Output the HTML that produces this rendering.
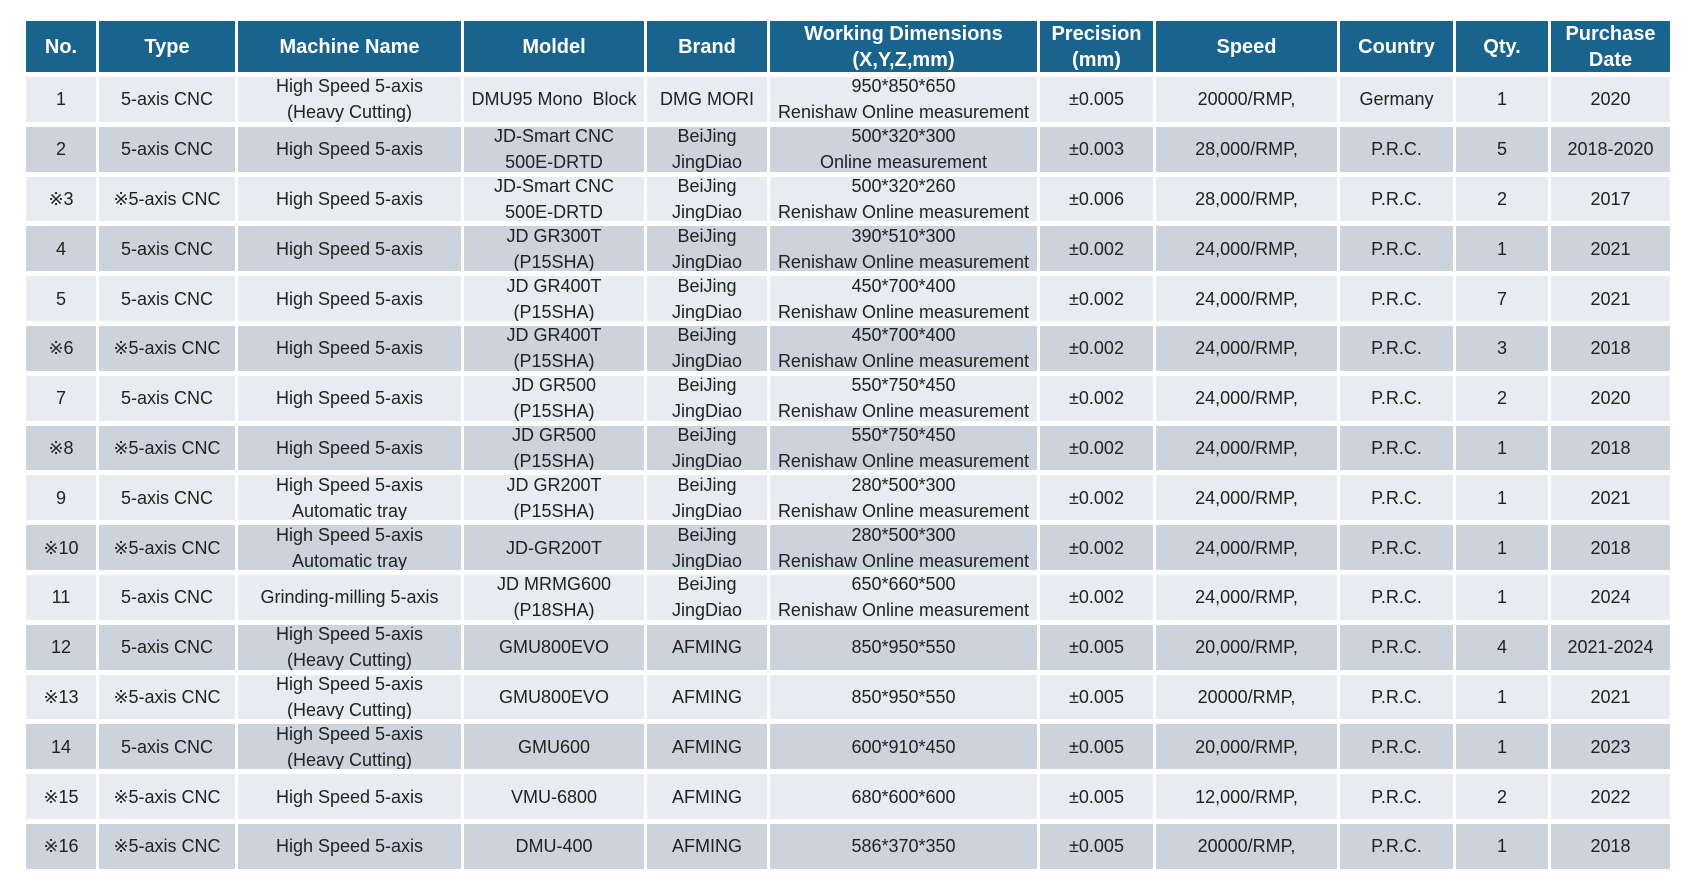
<!DOCTYPE html>
<html><head><meta charset="utf-8"><style>
html,body{margin:0;padding:0;background:#fff;width:1689px;height:892px;overflow:hidden}
table{position:absolute;left:23px;top:16px;border-collapse:separate;border-spacing:3px 5px;table-layout:fixed;font-family:"Liberation Sans",sans-serif}
td,th{padding:0;text-align:center}
th{background:#19638f;color:#fff;font-weight:bold;font-size:20px;height:51px;line-height:26px}
th div{height:51px;overflow:hidden;display:flex;align-items:center;justify-content:center;flex-direction:column;white-space:nowrap}
td{height:44.8px;font-size:18px;color:#222}
td div{height:44.8px;overflow:hidden;display:flex;align-items:center;justify-content:center;line-height:26px;white-space:nowrap;flex-direction:column}
tr.l td{background:#e8ebf0}
tr.d td{background:#cdd3dc}
</style></head><body>
<table>
<colgroup><col style="width:70px"><col style="width:136px"><col style="width:223px"><col style="width:180px"><col style="width:120px"><col style="width:267px"><col style="width:113px"><col style="width:181px"><col style="width:113px"><col style="width:92px"><col style="width:119px"></colgroup>
<tr><th><div>No.</div></th><th><div>Type</div></th><th><div>Machine Name</div></th><th><div>Moldel</div></th><th><div>Brand</div></th><th><div><span>Working Dimensions</span><span>(X,Y,Z,mm)</span></div></th><th><div><span>Precision</span><span>(mm)</span></div></th><th><div>Speed</div></th><th><div>Country</div></th><th><div>Qty.</div></th><th><div><span>Purchase</span><span>Date</span></div></th></tr>
<tr class="l"><td><div>1</div></td><td><div>5-axis CNC</div></td><td><div><span>High Speed 5-axis</span><span>(Heavy Cutting)</span></div></td><td><div>DMU95 Mono&nbsp; Block</div></td><td><div>DMG MORI</div></td><td><div><span>950*850*650</span><span>Renishaw Online measurement</span></div></td><td><div>±0.005</div></td><td><div>20000/RMP,</div></td><td><div>Germany</div></td><td><div>1</div></td><td><div>2020</div></td></tr>
<tr class="d"><td><div>2</div></td><td><div>5-axis CNC</div></td><td><div>High Speed 5-axis</div></td><td><div><span>JD-Smart CNC</span><span>500E-DRTD</span></div></td><td><div><span>BeiJing</span><span>JingDiao</span></div></td><td><div><span>500*320*300</span><span>Online measurement</span></div></td><td><div>±0.003</div></td><td><div>28,000/RMP,</div></td><td><div>P.R.C.</div></td><td><div>5</div></td><td><div>2018-2020</div></td></tr>
<tr class="l"><td><div>※3</div></td><td><div>※5-axis CNC</div></td><td><div>High Speed 5-axis</div></td><td><div><span>JD-Smart CNC</span><span>500E-DRTD</span></div></td><td><div><span>BeiJing</span><span>JingDiao</span></div></td><td><div><span>500*320*260</span><span>Renishaw Online measurement</span></div></td><td><div>±0.006</div></td><td><div>28,000/RMP,</div></td><td><div>P.R.C.</div></td><td><div>2</div></td><td><div>2017</div></td></tr>
<tr class="d"><td><div>4</div></td><td><div>5-axis CNC</div></td><td><div>High Speed 5-axis</div></td><td><div><span>JD GR300T</span><span>(P15SHA)</span></div></td><td><div><span>BeiJing</span><span>JingDiao</span></div></td><td><div><span>390*510*300</span><span>Renishaw Online measurement</span></div></td><td><div>±0.002</div></td><td><div>24,000/RMP,</div></td><td><div>P.R.C.</div></td><td><div>1</div></td><td><div>2021</div></td></tr>
<tr class="l"><td><div>5</div></td><td><div>5-axis CNC</div></td><td><div>High Speed 5-axis</div></td><td><div><span>JD GR400T</span><span>(P15SHA)</span></div></td><td><div><span>BeiJing</span><span>JingDiao</span></div></td><td><div><span>450*700*400</span><span>Renishaw Online measurement</span></div></td><td><div>±0.002</div></td><td><div>24,000/RMP,</div></td><td><div>P.R.C.</div></td><td><div>7</div></td><td><div>2021</div></td></tr>
<tr class="d"><td><div>※6</div></td><td><div>※5-axis CNC</div></td><td><div>High Speed 5-axis</div></td><td><div><span>JD GR400T</span><span>(P15SHA)</span></div></td><td><div><span>BeiJing</span><span>JingDiao</span></div></td><td><div><span>450*700*400</span><span>Renishaw Online measurement</span></div></td><td><div>±0.002</div></td><td><div>24,000/RMP,</div></td><td><div>P.R.C.</div></td><td><div>3</div></td><td><div>2018</div></td></tr>
<tr class="l"><td><div>7</div></td><td><div>5-axis CNC</div></td><td><div>High Speed 5-axis</div></td><td><div><span>JD GR500</span><span>(P15SHA)</span></div></td><td><div><span>BeiJing</span><span>JingDiao</span></div></td><td><div><span>550*750*450</span><span>Renishaw Online measurement</span></div></td><td><div>±0.002</div></td><td><div>24,000/RMP,</div></td><td><div>P.R.C.</div></td><td><div>2</div></td><td><div>2020</div></td></tr>
<tr class="d"><td><div>※8</div></td><td><div>※5-axis CNC</div></td><td><div>High Speed 5-axis</div></td><td><div><span>JD GR500</span><span>(P15SHA)</span></div></td><td><div><span>BeiJing</span><span>JingDiao</span></div></td><td><div><span>550*750*450</span><span>Renishaw Online measurement</span></div></td><td><div>±0.002</div></td><td><div>24,000/RMP,</div></td><td><div>P.R.C.</div></td><td><div>1</div></td><td><div>2018</div></td></tr>
<tr class="l"><td><div>9</div></td><td><div>5-axis CNC</div></td><td><div><span>High Speed 5-axis</span><span>Automatic tray</span></div></td><td><div><span>JD GR200T</span><span>(P15SHA)</span></div></td><td><div><span>BeiJing</span><span>JingDiao</span></div></td><td><div><span>280*500*300</span><span>Renishaw Online measurement</span></div></td><td><div>±0.002</div></td><td><div>24,000/RMP,</div></td><td><div>P.R.C.</div></td><td><div>1</div></td><td><div>2021</div></td></tr>
<tr class="d"><td><div>※10</div></td><td><div>※5-axis CNC</div></td><td><div><span>High Speed 5-axis</span><span>Automatic tray</span></div></td><td><div>JD-GR200T</div></td><td><div><span>BeiJing</span><span>JingDiao</span></div></td><td><div><span>280*500*300</span><span>Renishaw Online measurement</span></div></td><td><div>±0.002</div></td><td><div>24,000/RMP,</div></td><td><div>P.R.C.</div></td><td><div>1</div></td><td><div>2018</div></td></tr>
<tr class="l"><td><div>11</div></td><td><div>5-axis CNC</div></td><td><div>Grinding-milling 5-axis</div></td><td><div><span>JD MRMG600</span><span>(P18SHA)</span></div></td><td><div><span>BeiJing</span><span>JingDiao</span></div></td><td><div><span>650*660*500</span><span>Renishaw Online measurement</span></div></td><td><div>±0.002</div></td><td><div>24,000/RMP,</div></td><td><div>P.R.C.</div></td><td><div>1</div></td><td><div>2024</div></td></tr>
<tr class="d"><td><div>12</div></td><td><div>5-axis CNC</div></td><td><div><span>High Speed 5-axis</span><span>(Heavy Cutting)</span></div></td><td><div>GMU800EVO</div></td><td><div>AFMING</div></td><td><div>850*950*550</div></td><td><div>±0.005</div></td><td><div>20,000/RMP,</div></td><td><div>P.R.C.</div></td><td><div>4</div></td><td><div>2021-2024</div></td></tr>
<tr class="l"><td><div>※13</div></td><td><div>※5-axis CNC</div></td><td><div><span>High Speed 5-axis</span><span>(Heavy Cutting)</span></div></td><td><div>GMU800EVO</div></td><td><div>AFMING</div></td><td><div>850*950*550</div></td><td><div>±0.005</div></td><td><div>20000/RMP,</div></td><td><div>P.R.C.</div></td><td><div>1</div></td><td><div>2021</div></td></tr>
<tr class="d"><td><div>14</div></td><td><div>5-axis CNC</div></td><td><div><span>High Speed 5-axis</span><span>(Heavy Cutting)</span></div></td><td><div>GMU600</div></td><td><div>AFMING</div></td><td><div>600*910*450</div></td><td><div>±0.005</div></td><td><div>20,000/RMP,</div></td><td><div>P.R.C.</div></td><td><div>1</div></td><td><div>2023</div></td></tr>
<tr class="l"><td><div>※15</div></td><td><div>※5-axis CNC</div></td><td><div>High Speed 5-axis</div></td><td><div>VMU-6800</div></td><td><div>AFMING</div></td><td><div>680*600*600</div></td><td><div>±0.005</div></td><td><div>12,000/RMP,</div></td><td><div>P.R.C.</div></td><td><div>2</div></td><td><div>2022</div></td></tr>
<tr class="d"><td><div>※16</div></td><td><div>※5-axis CNC</div></td><td><div>High Speed 5-axis</div></td><td><div>DMU-400</div></td><td><div>AFMING</div></td><td><div>586*370*350</div></td><td><div>±0.005</div></td><td><div>20000/RMP,</div></td><td><div>P.R.C.</div></td><td><div>1</div></td><td><div>2018</div></td></tr>
</table>
</body></html>
